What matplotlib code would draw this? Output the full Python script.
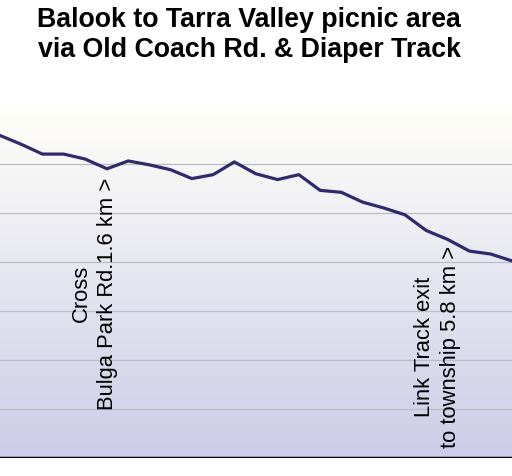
import numpy as np
import matplotlib
matplotlib.use('Agg')
import matplotlib.pyplot as plt

plt.rcParams['font.family'] = ['Liberation Sans', 'DejaVu Sans']

# distance along the track (km) and elevation (m)
dist_km = [0.30, 0.56, 0.82, 1.08, 1.34, 1.61, 1.87, 2.13, 2.39, 2.65, 2.91, 3.17, 3.43,
           3.70, 3.96, 4.22, 4.48, 4.74, 5.00, 5.26, 5.52, 5.78, 6.05, 6.31, 6.57]
elev_m = [429, 420, 410, 410, 405, 395, 403, 399, 394, 385, 389, 402, 390,
          384, 389, 373, 371, 361, 355, 348, 332, 323, 311, 308, 301]

grid_levels = [150, 200, 250, 300, 350, 400]

notes = ['Cross\nBulga Park Rd.1.6 km >', 'Link Track exit\nto township 5.8 km >']
note_km = [1.6, 5.8]
note_elev = [150, 111]

title = 'Balook to Tarra Valley picnic area\nvia Old Coach Rd. & Diaper Track'

fig = plt.figure(figsize=(5.12, 4.77), dpi=100)
ax = fig.add_axes([0, 18 / 477, 1, 349 / 477])

x0, x1 = dist_km[0], dist_km[-1]
y0, y1 = 100, 456

# background gradient: near white at top to lavender at bottom
grad = np.linspace(0, 1, 256)[:, None]
top = np.array([1.0, 0.998, 0.975])
bot = np.array([0.80, 0.80, 0.91])
img = top[None, None, :] * (1 - grad[..., None]) + bot[None, None, :] * grad[..., None]
ax.imshow(img, extent=[x0, x1, y0, y1], aspect='auto', origin='upper', zorder=0)

for g in grid_levels:
    ax.axhline(g, color='#bcbcc4', lw=0.9, zorder=1)
ax.axhline(y0, color='black', lw=2.5, zorder=3)

ax.plot(dist_km, elev_m, color='#2f2a6c', lw=2.3, zorder=4, solid_joinstyle='round')

for txt, km, ev in zip(notes, note_km, note_elev):
    ax.annotate(txt, xy=(km, ev), xytext=(-8.5, 0), textcoords='offset points',
                rotation=90, ha='center', va='bottom', fontsize=15.8, linespacing=1.3)

ax.set_xlim(x0, x1)
ax.set_ylim(y0 - 0.1, y1)
ax.axis('off')

fig.text(0.487, 1 - 7 / 477, title, ha='center', va='top', fontsize=19.3,
         fontweight='bold', linespacing=1.2)

fig.savefig('out.png', dpi=100)
